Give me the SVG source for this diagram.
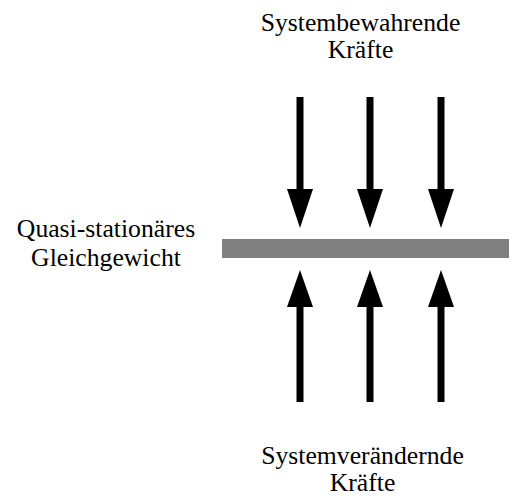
<svg xmlns="http://www.w3.org/2000/svg" width="510" height="499" viewBox="0 0 510 499">
<style>
text{font-family:"Liberation Serif","Times New Roman",serif;font-size:25.7px;fill:#000;text-anchor:middle}
.shaft{stroke:#000;stroke-width:7;fill:none}
.head{fill:#000}
</style>
<rect width="510" height="499" fill="#fff"/>
<g id="top-label"><text x="360.5" y="31">Systembewahrende</text><text x="360.5" y="58">Kräfte</text></g>
<g id="left-label"><text x="106" y="236.5">Quasi-stationäres</text><text x="106" y="265.5">Gleichgewicht</text></g>
<g id="bottom-label"><text x="362.5" y="464">Systemverändernde</text><text x="362.5" y="491">Kräfte</text></g>
<g id="bar"><rect x="222" y="239" width="287" height="19" fill="#808080"/></g>
<g id="connectors">
<line class="shaft" x1="300" y1="97" x2="300" y2="192"/><polygon class="head" points="287,189 313,189 300,228"/>
<line class="shaft" x1="370" y1="97" x2="370" y2="192"/><polygon class="head" points="357,189 383,189 370,228"/>
<line class="shaft" x1="441" y1="97" x2="441" y2="192"/><polygon class="head" points="428,189 454,189 441,228"/>
<line class="shaft" x1="300" y1="402" x2="300" y2="304"/><polygon class="head" points="287,307 313,307 300,270"/>
<line class="shaft" x1="370" y1="402" x2="370" y2="304"/><polygon class="head" points="357,307 383,307 370,270"/>
<line class="shaft" x1="441" y1="402" x2="441" y2="304"/><polygon class="head" points="428,307 454,307 441,270"/>
</g>
</svg>
